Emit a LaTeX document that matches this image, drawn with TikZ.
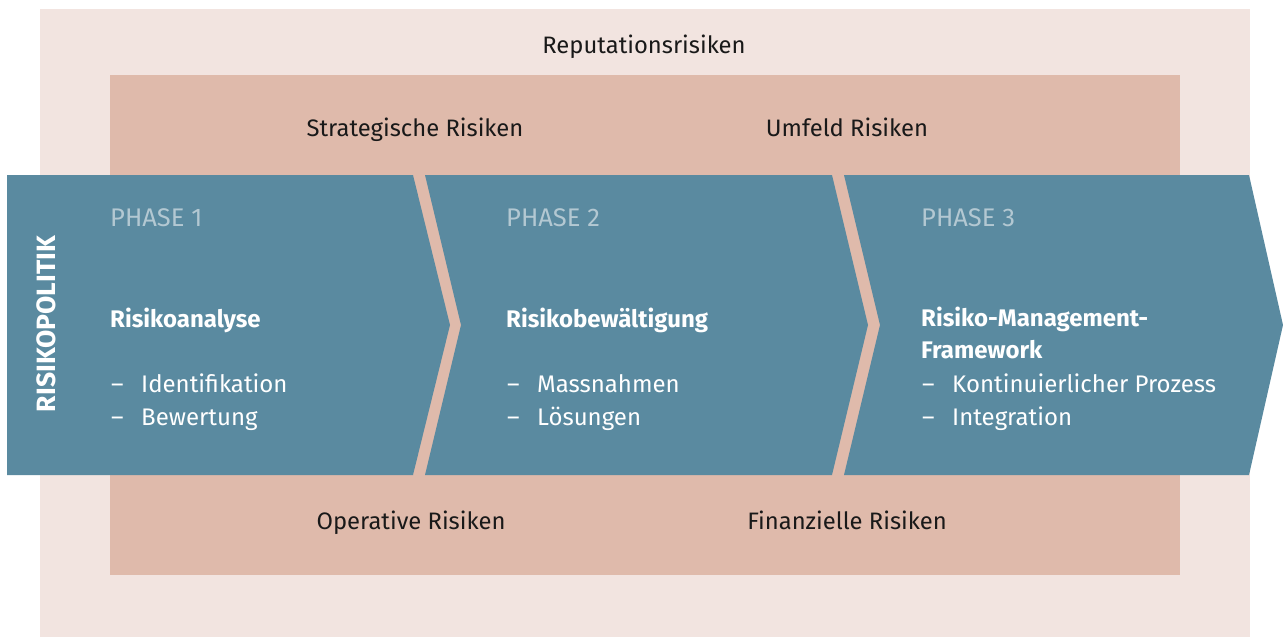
\documentclass[tikz,border=0pt]{standalone}
\usepackage{fontspec}
\setmainfont{Fira Sans}
\definecolor{outerc}{HTML}{F2E4E0}
\definecolor{midc}{HTML}{DFBAAB}
\definecolor{bluec}{HTML}{5A8AA0}
\definecolor{phasec}{HTML}{B3C8D2}
\tikzset{
  risk/.style={font=\fontsize{23.8}{28}\selectfont, text=black!90, inner sep=0pt, anchor=base},
  phase/.style={font=\fontsize{25.5}{30}\selectfont, text=phasec, inner sep=0pt, anchor=base west},
  head/.style={font=\bfseries\fontsize{24}{28}\selectfont, text=white, inner sep=0pt, anchor=base west},
  item/.style={font=\fontsize{24}{28}\selectfont, text=white, inner sep=0pt, anchor=base west},
}
\begin{document}
\begin{tikzpicture}[x=1pt,y=-1pt]
\useasboundingbox (0,0) rectangle (1283,637);
\fill[outerc] (40,9) rectangle (1250,637);
\fill[midc] (110,75) rectangle (1180,575);
\fill[bluec] (7,175) -- (413,175) -- (450,325) -- (413,475) -- (7,475) -- cycle;
\fill[bluec] (425,175) -- (832,175) -- (868,325) -- (832,475) -- (425,475) -- (461,325) -- cycle;
\fill[bluec] (844,175) -- (1249,175) -- (1283,325) -- (1249,475) -- (844,475) -- (880,325) -- cycle;

\node[risk] (rep) at (644,53) {Reputationsrisiken};
\node[risk] (str) at (415,136) {Strategische Risiken};
\node[risk] (umf) at (847,136) {Umfeld Risiken};
\node[risk] (ope) at (411,529) {Operative Risiken};
\node[risk] (fin) at (847,529) {Finanzielle Risiken};

\node[font=\bfseries\fontsize{26.5}{30}\selectfont, text=white, inner sep=0pt, rotate=90] (pol) at (46,324) {RISIKOPOLITIK};

\node[phase] (p1) at (110,226) {PHASE 1};
\node[head] (h1) at (110,327) {Risikoanalyse};
\node[item] (d1a) at (111,392) {–};
\node[item] (i1a) at (141,392) {Identifikation};
\node[item] (d1b) at (111,425) {–};
\node[item] (i1b) at (141,425) {Bewertung};

\node[phase] (p2) at (506,226) {PHASE 2};
\node[head] (h2) at (506,327) {Risikobewältigung};
\node[item] (d2a) at (507,392) {–};
\node[item] (i2a) at (537,392) {Massnahmen};
\node[item] (d2b) at (507,425) {–};
\node[item] (i2b) at (537,425) {Lösungen};

\node[phase] (p3) at (921,226) {PHASE 3};
\node[head] (h3) at (921,326) {Risiko-Management-};
\node[head] (h3b) at (921,358) {Framework};
\node[item] (d3a) at (922,392) {–};
\node[item] (i3a) at (952,392) {Kontinuierlicher Prozess};
\node[item] (d3b) at (922,425) {–};
\node[item] (i3b) at (952,425) {Integration};
\end{tikzpicture}
\end{document}
